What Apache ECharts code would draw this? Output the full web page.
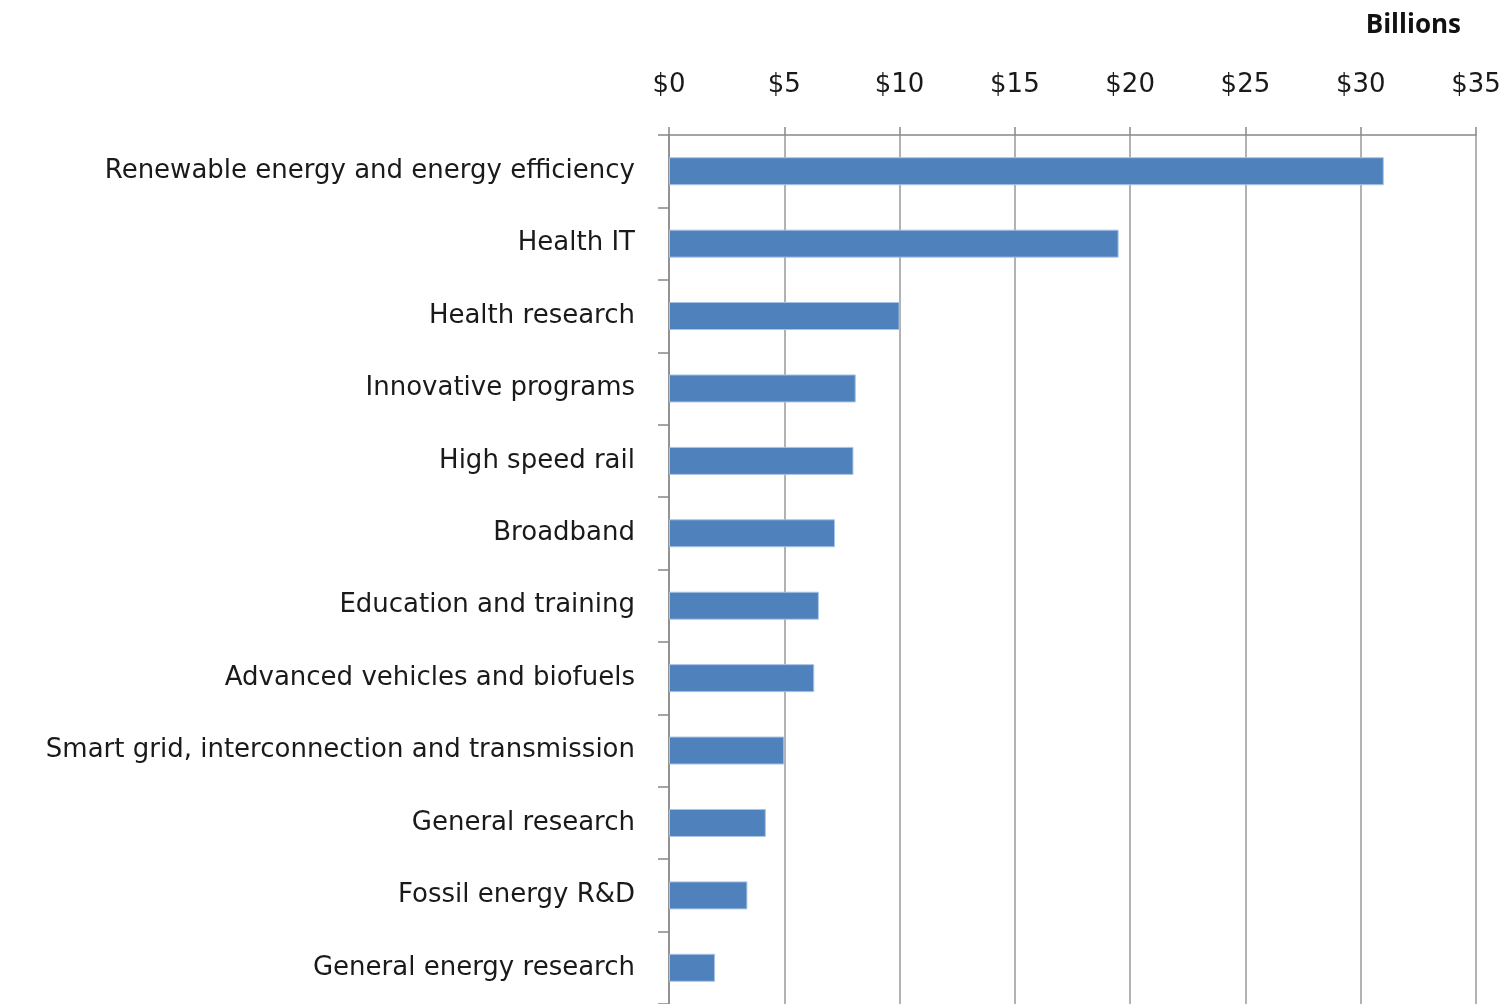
<!DOCTYPE html>
<html>
<head>
<meta charset="utf-8">
<script src="https://cdn.jsdelivr.net/npm/echarts@6/dist/echarts.min.js"></script>
<style>
  html, body { margin: 0; padding: 0; background: #fff; }
  #chart { width: 1506px; height: 1004px; }
</style>
</head>
<body>
<div id="chart"></div>
<script>
var categories = [
  'Renewable energy and energy efficiency',
  'Health IT',
  'Health research',
  'Innovative programs',
  'High speed rail',
  'Broadband',
  'Education and training',
  'Advanced vehicles and biofuels',
  'Smart grid, interconnection and transmission',
  'General research',
  'Fossil energy R&D',
  'General energy research'
];
var amounts = [31.0, 19.5, 10.0, 8.1, 8.0, 7.2, 6.5, 6.3, 5.0, 4.2, 3.4, 2.0];
var unitLabel = 'Billions';

var chart = echarts.init(document.getElementById('chart'));
var font = '"DejaVu Sans", sans-serif';

chart.setOption({
  backgroundColor: '#fff',
  animation: false,
  title: {
    text: unitLabel,
    right: 40,
    top: 8,
    textStyle: { fontFamily: '"Open Sans", sans-serif', fontSize: 26, fontWeight: 'bold', color: '#111' }
  },
  grid: { left: 669, right: 30, top: 135, height: 873, containLabel: false },
  xAxis: {
    type: 'value',
    position: 'top',
    min: 0,
    max: 35,
    interval: 5,
    axisLine: { show: true, lineStyle: { color: '#888', width: 1.5 } },
    axisTick: { show: true, inside: false, length: 8, lineStyle: { color: '#888', width: 1.5 } },
    splitLine: { show: true, lineStyle: { color: '#999', width: 1.5 } },
    axisLabel: {
      margin: 37,
      fontFamily: font,
      fontSize: 26,
      color: '#1a1a1a',
      formatter: function (v) { return '$' + v; }
    }
  },
  yAxis: {
    type: 'category',
    inverse: true,
    data: categories,
    axisLine: { show: true, lineStyle: { color: '#888', width: 1.5 } },
    axisTick: { show: true, length: 11, lineStyle: { color: '#888', width: 1.5 } },
    axisLabel: {
      margin: 34,
      fontFamily: font,
      fontSize: 26,
      color: '#1a1a1a',
      padding: [4, 0, 0, 0]
    }
  },
  series: [{
    type: 'bar',
    data: amounts,
    barWidth: 28,
    itemStyle: { color: '#4F81BD', borderColor: '#A9C4E6', borderWidth: 1 }
  }]
});
</script>
</body>
</html>
